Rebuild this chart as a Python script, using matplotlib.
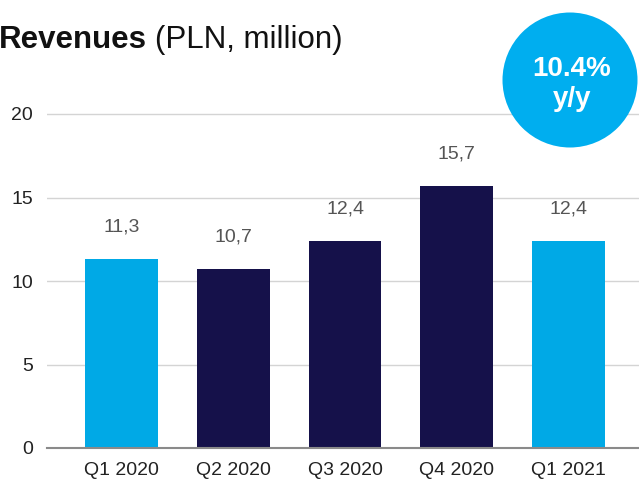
import matplotlib
matplotlib.use("Agg")
import matplotlib.pyplot as plt
from matplotlib.patches import Circle

quarters = ["Q1 2020", "Q2 2020", "Q3 2020", "Q4 2020", "Q1 2021"]
revenues = [11.3, 10.7, 12.4, 15.7, 12.4]
bar_colors = ["#00A9E6", "#15114A", "#15114A", "#15114A", "#00A9E6"]
growth_label = "10.4%\ny/y"

plt.rcParams["font.family"] = ["Liberation Sans", "DejaVu Sans"]

W, H = 639, 479
fig = plt.figure(figsize=(W / 100, H / 100), dpi=100)

# axes placed in pixel terms: y=0 at 448 px, 16.7 px per unit
y_top = 20.5
px_per_unit = 16.7
ax_bottom = 448
ax_top = ax_bottom - y_top * px_per_unit
ax_left, ax_right = 47, 643
ax = fig.add_axes([ax_left / W, (H - ax_bottom) / H,
                   (ax_right - ax_left) / W, (ax_bottom - ax_top) / H])

x = range(len(quarters))
ax.bar(x, revenues, width=0.65, color=bar_colors, zorder=3)
ax.set_xlim(-0.668, 4.668)
ax.set_ylim(0, y_top)
ax.set_yticks([0, 5, 10, 15, 20])
ax.set_xticks(list(x))
ax.set_xticklabels(quarters)
ax.tick_params(axis="both", length=0, labelsize=14, labelcolor="#222222")
ax.tick_params(axis="y", pad=10)
ax.tick_params(axis="x", pad=10)
ax.yaxis.grid(True, color="#d4d4d4", linewidth=1.0, zorder=0)
ax.set_axisbelow(True)
for side in ["top", "right", "left"]:
    ax.spines[side].set_visible(False)
ax.spines["bottom"].set_color("#8a8a8a")
ax.spines["bottom"].set_linewidth(1.5)
ax.spines["bottom"].set_zorder(4)

for xi, v in zip(x, revenues):
    ax.annotate(f"{v:.1f}".replace(".", ","), (xi, v), xytext=(0, 23),
                textcoords="offset points", ha="center", va="center",
                fontsize=14, color="#555555")

# title: bold word followed by regular unit text
t1 = fig.text(-1 / W, 1 - 48 / H, "Revenues", fontsize=22.5, fontweight="bold",
              color="#111111", va="baseline", ha="left")
fig.canvas.draw()
bb = t1.get_window_extent(renderer=fig.canvas.get_renderer())
fig.text((bb.x1 + 8) / W, 1 - 48 / H, "(PLN, million)", fontsize=22.5,
         color="#111111", va="baseline", ha="left")

circle = Circle((570 / 100, (H - 80) / 100), 0.675, transform=fig.dpi_scale_trans,
                facecolor="#00AEEF", edgecolor="none", zorder=10)
fig.add_artist(circle)
fig.text(572 / W, 1 - 84 / H, growth_label, fontsize=20, fontweight="bold",
         color="white", ha="center", va="center", linespacing=1.15, zorder=11)

fig.savefig("out.png", dpi=100)
